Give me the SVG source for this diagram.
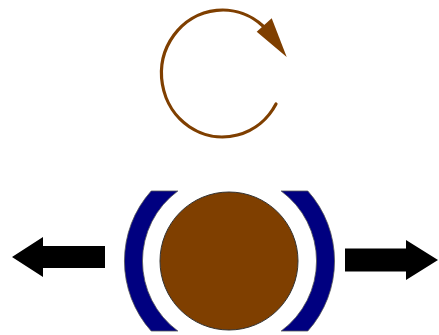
<svg xmlns="http://www.w3.org/2000/svg" width="439" height="335" viewBox="0 0 439 335">
<style>
.brown{fill:#7f3f00}
.bracket{fill:#000080;stroke:#555;stroke-width:0.8}
.arrow{fill:#000}
</style>
<rect width="439" height="335" fill="#fff"/>
<g id="rotation">
<path d="M276,104 A61,63.5 0 1 1 263,26" fill="none" stroke="#7f3f00" stroke-width="3.2" stroke-linecap="round"/>
<polygon class="brown" points="256.7,31.7 271.7,18.3 286.7,57"/>
</g>
<g id="left-bracket"><path class="bracket" d="M151.2,191 A105,105 0 0 0 151.2,331 L177.8,331 A87,87 0 0 1 177.8,191 Z"/></g>
<g id="right-bracket"><path class="bracket" d="M307.8,191 A105,105 0 0 1 307.8,331 L281.2,331 A87,87 0 0 0 281.2,191 Z"/></g>
<g id="ball"><circle cx="229" cy="261" r="69" class="brown" stroke="#333" stroke-width="1"/></g>
<g id="connectors">
<polygon class="arrow" points="105,246 43,246 43,237 12,257 43,277 43,268 105,268"/>
<polygon class="arrow" points="345,248.5 406,248.5 406,240 438,260 406,280 406,271.5 345,271.5"/>
</g>
</svg>
